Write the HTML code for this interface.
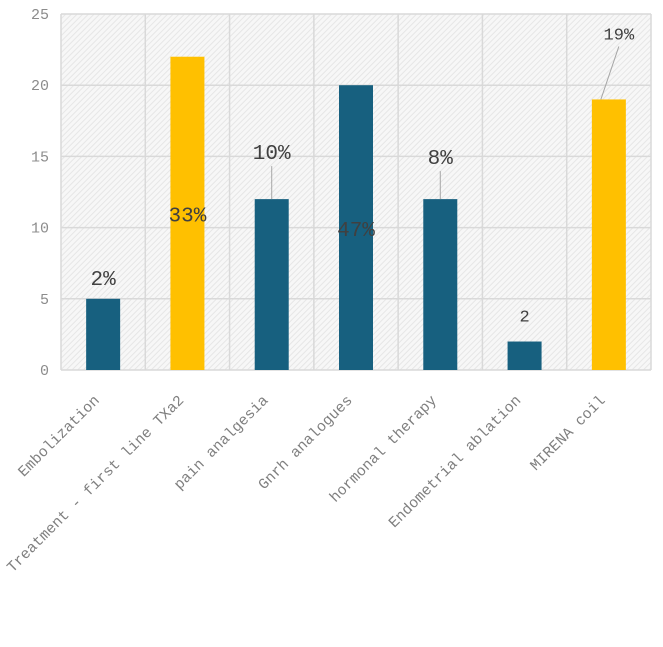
<!DOCTYPE html>
<html><head><meta charset="utf-8"><style>
html,body{margin:0;padding:0;background:#fff;}
svg text{font-family:"Liberation Mono",monospace;}
</style></head><body>
<svg width="663" height="642" xmlns="http://www.w3.org/2000/svg">
<defs>
<pattern id="hatch" width="4" height="4" patternUnits="userSpaceOnUse" patternTransform="rotate(45)">
<rect width="4" height="4" fill="#f7f7f7"/>
<line x1="0" y1="0" x2="0" y2="4" stroke="#e6e6e6" stroke-width="2"/>
</pattern>
</defs>
<rect x="61" y="14" width="590" height="356" fill="url(#hatch)"/>
<g id="grid"></g>
<g id="bars"></g>
<g id="labels"></g>
<g id="xlabels"></g>
<g id="yticks"></g>
</svg>
<script>
const categories=["Embolization","Treatment - first line TXa2","pain analgesia","Gnrh analogues","hormonal therapy","Endometrial ablation","MIRENA coil"];
const values=[5,22,12,20,12,2,19];
const barColors=["#17607f","#ffc000","#17607f","#17607f","#17607f","#17607f","#ffc000"];
const dataLabels=["2%","33%","10%","47%","8%","2","19%"];
const yTicks=[0,5,10,15,20,25];
const L=61,R=651,T=14,B=370,ymax=25;
const ns="http://www.w3.org/2000/svg";
const bw=(R-L)/categories.length;
const y=v=>B-(v/ymax)*(B-T);
const cx=i=>L+bw*(i+0.5);
function mk(tag,attrs,parent){const e=document.createElementNS(ns,tag);for(const k in attrs)e.setAttribute(k,attrs[k]);document.getElementById(parent).appendChild(e);return e;}
yTicks.forEach(t=>{
 const g=mk("line",{x1:L,x2:R,y1:y(t),y2:y(t),stroke:"#d9d9d9","stroke-width":1.5},"grid");
 
 
 const tx=mk("text",{x:L-12,y:y(t)+5,"text-anchor":"end","font-size":15,fill:"#8c8c8c"},"yticks");
 tx.textContent=t;
 
 
});
for(let i=0;i<=categories.length;i++){
 const g=mk("line",{x1:L+bw*i,x2:L+bw*i,y1:T,y2:B,stroke:"#d9d9d9","stroke-width":1.5},"grid");
 
 
}
const offsets=[[0,-14,null],[0,165,null],[0,-40,true],[0,151,null],[0,-35,true],[0,-20,null],[10,-60,true]];
categories.forEach((c,i)=>{
 const b=mk("rect",{x:cx(i)-17,y:y(values[i]),width:34,height:B-y(values[i]),fill:barColors[i]},"bars");
 
 
 const o=offsets[i];
 const lx=cx(i)+o[0], ly=y(values[i])+o[1];
 if(o[2]){
  const ln=mk("line",{x1:lx,y1:ly+7,x2:cx(i)+(i==6?-8:0),y2:y(values[i]),stroke:"#a6a6a6","stroke-width":1},"labels");
  
  
 }
 const t=mk("text",{x:lx,y:ly,"text-anchor":"middle","font-size":i==6||i==5?17:21,fill:"#404040"},"labels");
 t.textContent=dataLabels[i];
 
 
 const ax=cx(i)-3, ay=401;
 const xl=mk("text",{x:ax,y:ay,"text-anchor":"end","font-size":15,fill:"#7f7f7f",transform:`rotate(-45 ${ax} ${ay})`},"xlabels");
 xl.textContent=c;
 
 
});
</script>
</body></html>
